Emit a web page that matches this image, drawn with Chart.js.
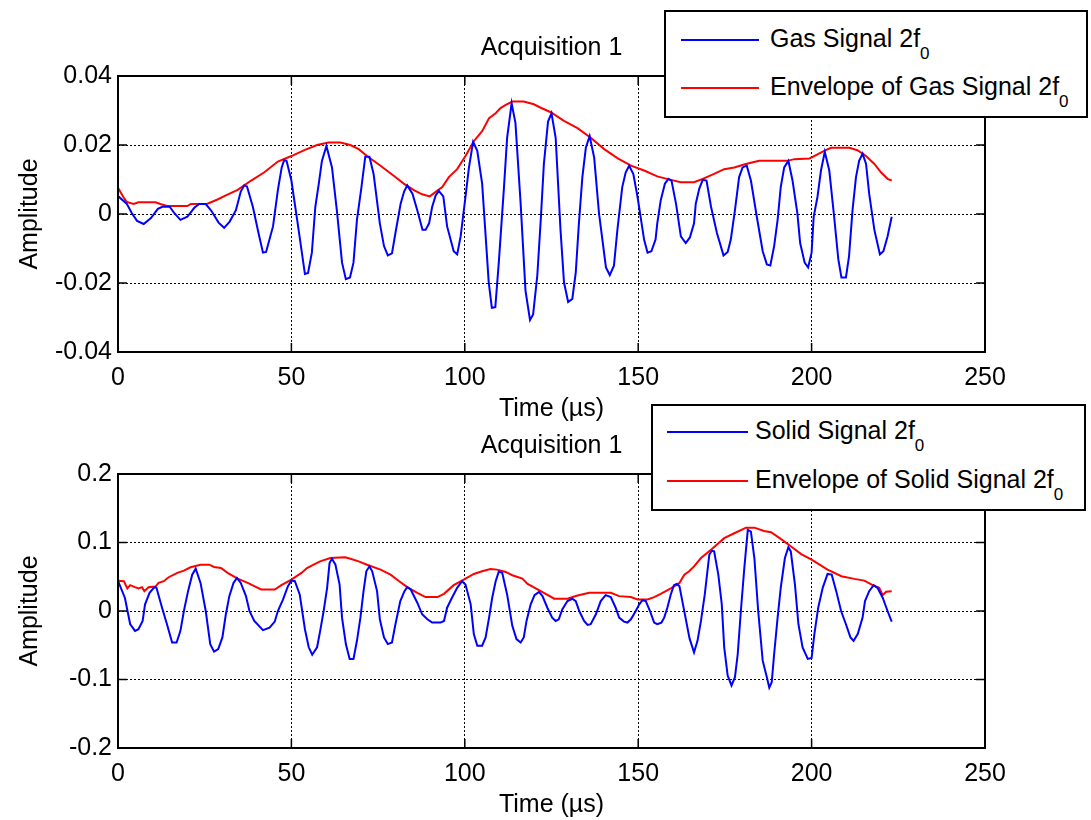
<!DOCTYPE html>
<html>
<head>
<meta charset="utf-8">
<script src="https://cdn.jsdelivr.net/npm/chart.js@4.4.1/dist/chart.umd.min.js"></script>
<style>
  html, body { margin: 0; padding: 0; background: #fff; }
  body { width: 1091px; height: 820px; position: relative; overflow: hidden; font-family: 'Liberation Sans', Arial, sans-serif; }
  canvas { position: absolute; left: 0; }
  .legend { position: absolute; box-sizing: border-box; border: 2px solid #000; background: #fff; }
  .legend .sw { position: absolute; height: 2px; }
  .legend .lbl { position: absolute; font-size: 25px; line-height: 30px; white-space: nowrap; color: #000; }
  .legend sub { font-size: 17px; vertical-align: -12px; line-height: 0; }
</style>
</head>
<body>
<canvas id="gasChart" width="1091" height="440" style="top:0px;width:1091px;height:440px"></canvas>
<canvas id="solidChart" width="1091" height="400" style="top:420px;width:1091px;height:400px"></canvas>

<div class="legend" style="left:664px;top:10px;width:424px;height:108px">
  <div class="sw" style="left:15px;top:27px;width:78px;background:#0000ff"></div>
  <div class="lbl" style="left:104px;top:11px">Gas Signal 2f<sub>0</sub></div>
  <div class="sw" style="left:15px;top:75px;width:78px;background:#ff0000"></div>
  <div class="lbl" style="left:104px;top:59px">Envelope of Gas Signal 2f<sub>0</sub></div>
</div>
<div class="legend" style="left:651px;top:404px;width:435px;height:107px">
  <div class="sw" style="left:14px;top:25px;width:81px;background:#0000ff"></div>
  <div class="lbl" style="left:102px;top:9px">Solid Signal 2f<sub>0</sub></div>
  <div class="sw" style="left:14px;top:74px;width:81px;background:#ff0000"></div>
  <div class="lbl" style="left:102px;top:58px">Envelope of Solid Signal 2f<sub>0</sub></div>
</div>

<script>
// ---- Time axis and amplitude ticks ----
const timeTicks = [0, 50, 100, 150, 200, 250];
const timeTickLabels = ['0', '50', '100', '150', '200', '250'];
const gasTicks = [-0.04, -0.02, 0, 0.02, 0.04];
const gasTickLabels = ['-0.04', '-0.02', '0', '0.02', '0.04'];
const solidTicks = [-0.2, -0.1, 0, 0.1, 0.2];
const solidTickLabels = ['-0.2', '-0.1', '0', '0.1', '0.2'];

// ---- Gas signal 2f0 (time in µs, amplitude) ----
const gasTime = [0,2.5,4,5.5,7.4,9.5,11.5,12.8,14.9,16.2,18,20,22,23.4,25.3,27,29,30.6,32.2,34,35.4,36.4,37.2,38.9,40.4,41.8,42.7,44.7,46.1,47.2,47.9,48.6,50,52,53.9,54.8,55.9,56.9,57.9,58.8,60.1,61.7,63.1,64.6,65.7,66.9,67.9,68.9,70.2,71.3,72.5,73.7,75.5,76.7,77.8,79,80,81.5,82.5,83.4,84.9,86.3,87.8,88.7,89.7,90.6,91.6,92.5,93.8,94.9,96.8,97.8,98.8,100.2,101.2,102.4,103.6,105,106.9,107.8,108.8,109.8,111.3,112.2,113.5,114.6,116.1,117.5,118.8,119.7,120.9,121.9,122.8,124,125,126.2,127.6,128.6,129.8,131,132,132.9,133.9,134.9,136,137.3,138.7,140.7,141.8,143,144,145.4,146.4,147.4,148.6,149.8,151.7,152.7,153.8,155,155.5,156.5,157.7,158.7,159.6,160.9,162.3,163.7,164.9,166.1,166.6,167.6,168.6,169.7,171,172.7,174.6,175.8,176.7,177.9,179.1,180.1,181.3,182.5,184.2,185.9,187.1,188.1,189.2,190.2,191.1,192.1,193.3,194.5,195.9,196.7,198,199,200,200.6,201.7,202.7,203.8,205.1,206.5,207.7,208.6,209.9,210.8,211.8,212.8,213.7,214.7,215.7,216.6,218.1,219.7,220.7,221.9,223.1];
const gasSignal = [0.0052,0.003,0.0002,-0.002,-0.0029,-0.0012,0.0015,0.0021,0.0021,0.0003,-0.0017,-0.0008,0.0018,0.0029,0.0029,0.0008,-0.0025,-0.004,-0.0022,0.0011,0.0065,0.0083,0.008,0.002,-0.005,-0.0112,-0.011,-0.0036,0.0069,0.0135,0.0156,0.0154,0.0097,-0.004,-0.0174,-0.0171,-0.0112,0.0021,0.0088,0.0154,0.0197,0.0135,0.0011,-0.0141,-0.0189,-0.0184,-0.0141,-0.0017,0.0078,0.0166,0.0166,0.0116,-0.0027,-0.0093,-0.012,-0.0114,-0.0055,0.003,0.0065,0.0083,0.0059,0.0011,-0.0046,-0.0046,-0.0027,0.0021,0.0054,0.0067,0.0051,-0.0036,-0.0108,-0.0117,-0.0065,0.005,0.0135,0.0209,0.0183,0.0088,-0.0198,-0.0272,-0.027,-0.0141,0.0078,0.0221,0.0321,0.0264,0.003,-0.0222,-0.0307,-0.0291,-0.0179,-0.0017,0.0145,0.0268,0.0292,0.0221,-0.0046,-0.0198,-0.0255,-0.0246,-0.0169,-0.0027,0.0107,0.0192,0.0226,0.0164,0.0002,-0.0155,-0.0177,-0.015,-0.0046,0.0078,0.0121,0.014,0.0116,0.005,-0.0074,-0.0112,-0.0108,-0.0074,-0.0027,0.004,0.0088,0.0102,0.0097,0.003,-0.0065,-0.0084,-0.0068,-0.0027,0.003,0.0073,0.0099,0.0097,0.0021,-0.0055,-0.012,-0.011,-0.0074,0.0011,0.0107,0.0135,0.014,0.0097,-0.0008,-0.0108,-0.0146,-0.0149,-0.0093,-0.0017,0.0078,0.0135,0.0154,0.0097,0.0002,-0.0084,-0.0141,-0.0155,-0.0112,-0.0008,0.005,0.0126,0.018,0.0126,-0.0008,-0.0131,-0.0184,-0.0184,-0.0122,0.0011,0.0107,0.0154,0.0175,0.0145,0.0059,-0.0046,-0.0117,-0.0108,-0.0065,-0.0008];

// ---- Envelope of gas signal 2f0 ----
const gasEnvTime = [0,1.5,2.5,4.5,5.9,10.8,12.2,14.1,20,21,25.8,28.7,31.1,34.5,38.4,42.2,46.1,50,53.9,57.4,60.7,64.1,67,69.4,71.8,75.7,79.5,82.4,85.3,87.7,89.9,92,93.5,95.4,97.8,100.2,102.6,105,107,108.9,110.3,111.8,113.7,117,119.9,121.9,124.8,128.6,132.5,136.3,140.2,144,147.9,151.7,155.5,159.4,162.3,166.1,168.6,171.4,174.8,177.7,181,184.9,193.1,195,199.4,201.7,203.6,205.6,210.9,213.2,215.7,218.1,220,221.9,223.1];
const gasEnvelope = [0.0076,0.005,0.0035,0.0029,0.0034,0.0034,0.0029,0.0023,0.0023,0.0029,0.003,0.0042,0.0054,0.007,0.0097,0.0121,0.0152,0.0168,0.0186,0.02,0.0207,0.0207,0.02,0.0188,0.0168,0.014,0.0111,0.0088,0.0069,0.0057,0.0051,0.0067,0.0078,0.0107,0.013,0.0168,0.0211,0.024,0.0278,0.0292,0.0307,0.0316,0.0326,0.0326,0.0318,0.0308,0.0295,0.027,0.0249,0.0221,0.0188,0.0162,0.014,0.0126,0.0109,0.0099,0.0092,0.0092,0.0102,0.0114,0.013,0.0135,0.0145,0.0154,0.0154,0.0159,0.0161,0.0173,0.0183,0.0192,0.0192,0.0185,0.0168,0.0145,0.0121,0.0102,0.0097];

// ---- Solid signal 2f0 ----
const solidTime = [0,2,3.5,4.9,5.9,7.1,7.8,9.1,10.5,11.1,12.7,14.1,15.6,16.9,18,19,20.2,21.4,22.4,23.8,25.3,26.6,27.7,28.9,30.1,31.1,32.1,33.3,34.3,35.4,36.9,37.9,39.3,41.8,43.7,45.2,46.1,47.6,49,50,51,52.4,53.9,55,56,57.4,58.3,59.3,60.3,61,61.7,62.7,63.9,64.6,65.7,66.8,67.9,68.9,69.9,70.8,71.6,72.5,73.3,74.7,75.5,76.7,77.8,79,80,81.4,82.6,83.4,84.4,86.3,87.7,89.2,90.6,93,94,94.9,96.3,97.8,99.2,100.2,101.7,102.6,103.6,105,106,107,107.9,108.9,109.8,110.8,112.2,113.7,114.9,116.1,117,117.8,119,120.1,121.4,122.4,123.8,125.2,126.2,127.1,128.1,129.6,131,132,133,134.4,135.4,136.3,137.8,139.2,140.6,142.1,143.5,144.5,145.9,146.9,147.9,149.3,150.3,151.2,152.2,153.4,154.6,155.5,156.7,157.5,158.4,159.4,160.3,161.1,161.9,163.2,164.8,166.1,167.1,168.1,169.2,170.5,171.2,171.9,173.1,174.1,174.8,175.8,176.9,177.9,178.7,179.6,180.6,181.6,182.5,183.5,184.6,185.9,187.1,187.8,188.5,189.2,190.2,191.1,192.3,193.3,194,195.2,196.2,197.4,198.9,200,200.8,201.9,203.2,204.6,205.8,207.1,208.5,209.9,211.2,212.1,213.3,214.7,215.4,216.6,217.9,219,220.5,221.9,223.1];
const solidSignal = [0.044,0.019,-0.019,-0.029,-0.0266,-0.0145,0.0097,0.0266,0.0348,0.034,0.0048,-0.019,-0.0459,-0.0459,-0.029,0,0.029,0.053,0.0618,0.041,0,-0.0483,-0.0594,-0.0556,-0.0386,-0.0048,0.0217,0.041,0.0483,0.041,0.0217,0,-0.0145,-0.028,-0.0242,-0.0155,0,0.0169,0.0362,0.0444,0.0435,0.0242,-0.0266,-0.053,-0.0638,-0.053,-0.029,0,0.0338,0.07,0.0763,0.0676,0.0386,-0.0097,-0.0483,-0.07,-0.07,-0.0435,-0.0097,0.029,0.058,0.0652,0.058,0.029,-0.012,-0.0386,-0.0483,-0.0459,-0.0193,0.0145,0.029,0.0348,0.0314,0.0121,-0.0048,-0.012,-0.0169,-0.0169,-0.0145,0.0048,0.0193,0.0338,0.0435,0.0386,0.0097,-0.0338,-0.0507,-0.0507,-0.0386,-0.0097,0.0193,0.0435,0.0575,0.0556,0.0242,-0.0217,-0.041,-0.0459,-0.0386,-0.0145,0.0097,0.0232,0.028,0.0217,0.0048,-0.0097,-0.0145,-0.0121,0.0024,0.0145,0.0179,0.0145,0,-0.0145,-0.0203,-0.0193,-0.0048,0.0145,0.0232,0.0203,0.0048,-0.0097,-0.0155,-0.0169,-0.0121,0,0.0097,0.0155,0.0145,0,-0.0169,-0.0193,-0.0169,-0.0097,0.0048,0.0242,0.0377,0.0396,0.0362,0.002,-0.04,-0.0604,-0.0435,-0.0145,0.0242,0.0821,0.0879,0.087,0.0531,0.0097,-0.0531,-0.0942,-0.1087,-0.0966,-0.0628,0,0.0628,0.1184,0.116,0.0773,0,-0.0725,-0.0966,-0.112,-0.104,-0.0628,-0.0097,0.0338,0.0773,0.0932,0.087,0.0386,-0.0193,-0.0531,-0.07,-0.0686,-0.0338,0.0048,0.0338,0.0541,0.0531,0.029,0,-0.0193,-0.0386,-0.0435,-0.0338,-0.0097,0.0145,0.029,0.0377,0.0338,0.0193,0,-0.0155];

// ---- Envelope of solid signal 2f0 ----
const solidEnvTime = [0,1.7,2.7,3.5,4.9,5.9,6.9,7.6,8.8,10.8,11.7,13.2,14.6,17.1,19,20.9,23.8,26.3,27.7,29.7,31.6,34.5,37.4,39.3,41.3,45.2,47.1,50,52.9,54.5,56.4,58.3,61.2,65.5,67,69.4,71.8,75.7,78.6,80.4,83.4,86.3,88.7,92.1,94,96.8,99.7,102.6,105,107.4,109.3,111.8,113.7,116.6,118.1,121.9,125.8,129.6,132.5,135.9,142.1,144.5,147.9,149.8,152.7,154.6,156.5,159.4,161.9,163.3,164.7,166.1,168.1,171,174.8,177.7,181.1,183.5,186.3,188.3,191.1,193.7,197,200,204.6,208.6,212.3,215.2,217.6,219.5,220.5,221.5,223.1];
const solidEnvelope = [0.044,0.0435,0.0329,0.0377,0.0348,0.0329,0.0348,0.029,0.0348,0.0357,0.041,0.0435,0.0493,0.0556,0.0589,0.0638,0.0676,0.0676,0.0643,0.0628,0.0556,0.0473,0.041,0.0362,0.0314,0.0314,0.0377,0.0459,0.0556,0.0628,0.0676,0.0725,0.0773,0.0783,0.0763,0.0725,0.0676,0.0604,0.0531,0.0459,0.0348,0.0266,0.0203,0.0203,0.0251,0.0377,0.0459,0.0541,0.058,0.0612,0.0604,0.057,0.0522,0.0473,0.0396,0.029,0.0179,0.0179,0.0227,0.0266,0.0266,0.0217,0.0203,0.0169,0.0169,0.0203,0.0251,0.0329,0.041,0.0531,0.058,0.0652,0.0773,0.0894,0.1063,0.1135,0.1217,0.1217,0.1169,0.115,0.1053,0.0957,0.0831,0.0749,0.0604,0.0507,0.0469,0.0444,0.0377,0.0338,0.0232,0.028,0.029];

const FONT = "'Liberation Sans', Arial, Helvetica, sans-serif";
Chart.defaults.font.family = FONT;
Chart.defaults.font.size = 25;
Chart.defaults.color = '#000';

const pairs = (xs, ys) => xs.map((x, i) => ({ x, y: ys[i] }));

// Boxed axes with inward tick marks
const axesFrame = {
  id: 'axesFrame',
  afterDraw(chart) {
    const { ctx, chartArea: a, scales: { x, y } } = chart;
    const len = 9;
    ctx.save();
    ctx.strokeStyle = '#000';
    ctx.lineWidth = 1.5;
    ctx.beginPath();
    x.ticks.forEach(t => {
      const px = x.getPixelForValue(t.value);
      ctx.moveTo(px, a.bottom); ctx.lineTo(px, a.bottom - len);
      ctx.moveTo(px, a.top); ctx.lineTo(px, a.top + len);
    });
    y.ticks.forEach(t => {
      const py = y.getPixelForValue(t.value);
      ctx.moveTo(a.left, py); ctx.lineTo(a.left + len, py);
      ctx.moveTo(a.right, py); ctx.lineTo(a.right - len, py);
    });
    ctx.stroke();
    ctx.lineWidth = 2;
    ctx.strokeRect(a.left, a.top, a.right - a.left, a.bottom - a.top);
    ctx.restore();
  }
};

function makeChart(id, cfg) {
  const gridColor = ctx => {
    const v = ctx.tick && ctx.tick.value;
    return (v === cfg.yTicks[0] || v === cfg.yTicks[cfg.yTicks.length - 1]) ? 'rgba(0,0,0,0)' : '#000';
  };
  const xGridColor = ctx => {
    const v = ctx.tick && ctx.tick.value;
    return (v === timeTicks[0] || v === timeTicks[timeTicks.length - 1]) ? 'rgba(0,0,0,0)' : '#000';
  };
  return new Chart(document.getElementById(id), {
    type: 'line',
    data: {
      datasets: [
        { label: cfg.signalLabel, data: pairs(cfg.t, cfg.v), borderColor: '#0000ff', borderWidth: 2, pointRadius: 0, tension: 0, fill: false },
        { label: cfg.envLabel, data: pairs(cfg.et, cfg.ev), borderColor: '#ff0000', borderWidth: 2, pointRadius: 0, tension: 0, fill: false }
      ]
    },
    options: {
      responsive: false,
      animation: false,
      events: [],
      layout: { padding: { left: 0, right: 106, top: 0, bottom: cfg.padBottom } },
      plugins: {
        legend: { display: false },
        tooltip: { enabled: false },
        title: {
          display: true, text: 'Acquisition 1', fullSize: false, color: '#000',
          font: { size: 25, weight: 'normal' },
          padding: { top: cfg.titleTop, bottom: cfg.titleBottom }
        }
      },
      scales: {
        x: {
          type: 'linear', min: 0, max: 250,
          afterBuildTicks: s => { s.ticks = timeTicks.map(v => ({ value: v })); },
          afterFit: s => { s.height = 72; },
          ticks: { padding: 11, maxRotation: 0, autoSkip: false,
                   callback: (v) => timeTickLabels[timeTicks.indexOf(v)] },
          grid: { color: xGridColor, lineWidth: 1, drawTicks: false },
          border: { display: false, dash: [2, 2] },
          title: { display: true, text: 'Time (µs)', font: { size: 25 }, padding: { top: 0, bottom: 0 } }
        },
        y: {
          type: 'linear', min: cfg.yTicks[0], max: cfg.yTicks[cfg.yTicks.length - 1],
          afterBuildTicks: s => { s.ticks = cfg.yTicks.map(v => ({ value: v })); },
          afterFit: s => { s.width = 118; },
          ticks: { padding: 6, autoSkip: false,
                   callback: (v) => cfg.yLabels[cfg.yTicks.indexOf(v)] },
          grid: { color: gridColor, lineWidth: 1, drawTicks: false },
          border: { display: false, dash: [2, 2] },
          title: { display: true, text: 'Amplitude', font: { size: 25 }, padding: { top: 15, bottom: 0 } }
        }
      }
    },
    plugins: [axesFrame]
  });
}

makeChart('gasChart', {
  t: gasTime, v: gasSignal, et: gasEnvTime, ev: gasEnvelope,
  signalLabel: 'Gas Signal 2f0', envLabel: 'Envelope of Gas Signal 2f0',
  yTicks: gasTicks, yLabels: gasTickLabels,
  titleTop: 33, titleBottom: 13, padBottom: 16
});

makeChart('solidChart', {
  t: solidTime, v: solidSignal, et: solidEnvTime, ev: solidEnvelope,
  signalLabel: 'Solid Signal 2f0', envLabel: 'Envelope of Solid Signal 2f0',
  yTicks: solidTicks, yLabels: solidTickLabels,
  titleTop: 11, titleBottom: 13, padBottom: 0
});
</script>
</body>
</html>
